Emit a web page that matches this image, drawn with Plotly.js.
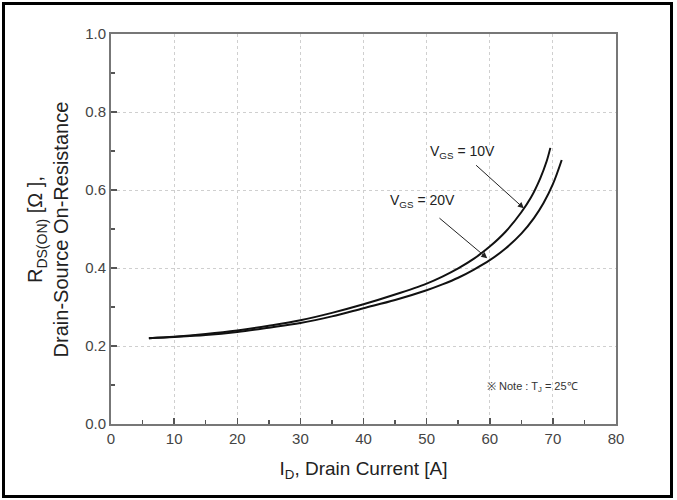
<!DOCTYPE html>
<html>
<head>
<meta charset="utf-8">
<script src="https://cdn.plot.ly/plotly-3.0.1.min.js"></script>
<style>
html,body{margin:0;padding:0;background:#fff;}
#wrap{position:relative;width:677px;height:500px;}
#chart{position:absolute;left:0;top:0;width:677px;height:500px;}
#frame{position:absolute;left:2px;top:2px;width:665px;height:490px;border:3px solid #000;pointer-events:none;}
</style>
</head>
<body>
<div id="wrap"><div id="chart"></div><div id="frame"></div></div>
<script>
// VGS = 10V curve (upper)
const id10 = [6, 10, 15, 20, 25, 30, 35, 40, 45, 50, 52.5, 55, 57.5, 60, 62.5, 65, 66.5, 68, 69, 69.6];
const r10  = [0.220, 0.224, 0.231, 0.240, 0.252, 0.266, 0.285, 0.307, 0.332, 0.360, 0.378, 0.399, 0.424, 0.455, 0.493, 0.543, 0.580, 0.630, 0.673, 0.708];
// VGS = 20V curve (lower)
const id20 = [6, 10, 15, 20, 25, 30, 35, 40, 45, 50, 52.5, 55, 57.5, 60, 62.5, 65, 67, 68.5, 70, 71.4];
const r20  = [0.220, 0.223, 0.228, 0.236, 0.247, 0.259, 0.276, 0.297, 0.318, 0.343, 0.358, 0.375, 0.396, 0.420, 0.450, 0.488, 0.528, 0.566, 0.615, 0.677];
const xTicks = [0, 10, 20, 30, 40, 50, 60, 70, 80];
const yTicks = [0.0, 0.2, 0.4, 0.6, 0.8, 1.0];
const yTickText = ['0.0', '0.2', '0.4', '0.6', '0.8', '1.0'];

const FONT = 'Liberation Sans Narrow, Liberation Sans, Arial, sans-serif';
const traces = [
  {x: id10, y: r10, mode: 'lines', line: {color: '#111', width: 2, shape: 'spline', smoothing: 1}, hoverinfo: 'none'},
  {x: id20, y: r20, mode: 'lines', line: {color: '#111', width: 2, shape: 'spline', smoothing: 1}, hoverinfo: 'none'}
];
const axisCommon = {
  showline: true, mirror: true, linecolor: '#777', linewidth: 2,
  ticks: 'inside', ticklen: 6, tickwidth: 1.5, tickcolor: '#555',
  showgrid: true, gridcolor: '#cfcfcf', gridwidth: 1, griddash: 'dot',
  zeroline: false, tickfont: {family: FONT, size: 15, color: '#444'}
};
const layout = {
  width: 677, height: 500,
  margin: {l: 111, r: 61, t: 34, b: 76},
  paper_bgcolor: '#fff', plot_bgcolor: '#fff',
  showlegend: false,
  xaxis: Object.assign({}, axisCommon, {
    range: [0, 80], tickmode: 'array', tickvals: xTicks,
    minor: {ticks: 'inside', dtick: 5, ticklen: 4, tickcolor: '#555', showgrid: false},
    title: {text: 'I<sub>D</sub>, Drain Current [A]', font: {family: FONT, size: 19, color: '#222'}, standoff: 16}
  }),
  yaxis: Object.assign({}, axisCommon, {
    range: [0, 1.0], tickmode: 'array', tickvals: yTicks, ticktext: yTickText,
    minor: {ticks: 'inside', dtick: 0.1, ticklen: 4, tickcolor: '#555', showgrid: false}
  }),
  annotations: [
    {xref: 'paper', yref: 'paper', x: -0.124, y: 0.50, textangle: -90, showarrow: false,
     xanchor: 'center', yanchor: 'middle', align: 'center',
     text: 'R<sub>DS(ON)</sub> [Ω ],<br>Drain-Source On-Resistance',
     font: {family: FONT, size: 20, color: '#222'}},
    {x: 65.4, y: 0.553, ax: 57.6, ay: 0.667, axref: 'x', ayref: 'y', text: '',
     showarrow: true, arrowhead: 2, arrowsize: 1.2, arrowwidth: 1, arrowcolor: '#222'},
    {x: 59.6, y: 0.425, ax: 51.8, ay: 0.531, axref: 'x', ayref: 'y', text: '',
     showarrow: true, arrowhead: 2, arrowsize: 1.2, arrowwidth: 1, arrowcolor: '#222'},
    {x: 55.7, y: 0.697, showarrow: false, xanchor: 'center', yanchor: 'middle',
     text: 'V<sub>GS</sub> = 10V', font: {family: FONT, size: 14, color: '#222'}},
    {x: 49.3, y: 0.573, showarrow: false, xanchor: 'center', yanchor: 'middle',
     text: 'V<sub>GS</sub> = 20V', font: {family: FONT, size: 14, color: '#222'}},
    {x: 66.8, y: 0.094, showarrow: false, xanchor: 'center', yanchor: 'middle',
     text: '※ Note : T<sub>J</sub> = 25℃', font: {family: FONT, size: 11, color: '#333'}}
  ]
};
Plotly.newPlot('chart', traces, layout, {staticPlot: true, displayModeBar: false});
</script>
</body>
</html>
